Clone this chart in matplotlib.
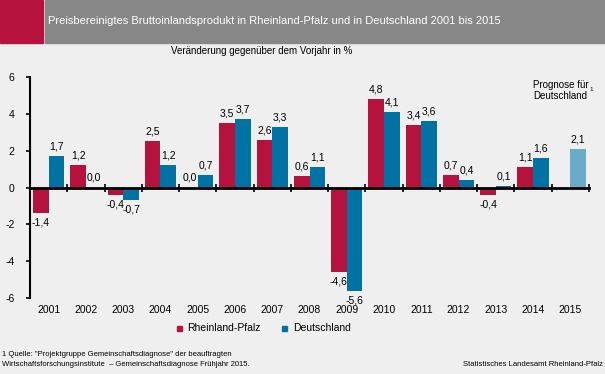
import numpy as np
import matplotlib.pyplot as plt
from matplotlib.patches import Rectangle

plt.rcParams['font.family'] = ['Liberation Sans', 'DejaVu Sans']

# Daten
jahre = ['2001', '2002', '2003', '2004', '2005', '2006', '2007', '2008',
         '2009', '2010', '2011', '2012', '2013', '2014', '2015']
rlp = [-1.4, 1.2, -0.4, 2.5, 0.0, 3.5, 2.6, 0.6, -4.6, 4.8, 3.4, 0.7, -0.4, 1.1, None]
de = [1.7, 0.0, -0.7, 1.2, 0.7, 3.7, 3.3, 1.1, -5.6, 4.1, 3.6, 0.4, 0.1, 1.6, 2.1]
prognose = [False] * 14 + [True]

rot = '#B5123E'
blau = '#0072A3'
hellblau = '#6AABCA'
grau = '#878787'
hg = '#EEEFEE'

W, H = 605, 374
fig = plt.figure(figsize=(W / 100, H / 100), dpi=100)
fig.patch.set_facecolor(hg)

# Titelleiste
fig.patches.append(Rectangle((0, 1 - 43 / H), 43 / W, 43 / H, transform=fig.transFigure,
                             color=rot, zorder=0))
fig.patches.append(Rectangle((45 / W, 1 - 43 / H), 1, 43 / H, transform=fig.transFigure,
                             color=grau, zorder=0))
fig.text(48 / W, 1 - 21 / H, 'Preisbereinigtes Bruttoinlandsprodukt in Rheinland-Pfalz und in Deutschland 2001 bis 2015',
         color='white', fontsize=8, va='center', ha='left')
fig.text(262 / W, 1 - 51 / H, 'Veränderung gegenüber dem Vorjahr in %', fontsize=7,
         va='center', ha='center')

ax = fig.add_axes([30 / W, (H - 298) / H, 559 / W, 221 / H])
ax.set_facecolor(hg)

x = np.arange(len(jahre))
bw = 0.42
for i in x:
    if rlp[i] is not None:
        ax.bar(i - bw / 2, rlp[i], bw, color=rot, zorder=2)
        v = rlp[i]
        off = 0.25 if v >= 0 else -0.25
        ax.text(i - bw / 2, v + off, f'{v:.1f}'.replace('.', ','), ha='center',
                va='bottom' if v >= 0 else 'top', fontsize=7.5)
    c = hellblau if prognose[i] else blau
    ax.bar(i + bw / 2, de[i], bw, color=c, zorder=2)
    v = de[i]
    off = 0.25 if v >= 0 else -0.25
    ax.text(i + bw / 2, v + off, f'{v:.1f}'.replace('.', ','), ha='center',
            va='bottom' if v >= 0 else 'top', fontsize=7.5)

ax.set_xlim(-0.5, len(jahre) - 0.5)
ax.set_ylim(-6, 6)
ax.set_yticks([-6, -4, -2, 0, 2, 4, 6])
ax.set_yticklabels(['-6', '-4', '-2', '0', '2', '4', '6'], fontsize=7.5)
ax.set_xticks(np.arange(len(jahre) + 1) - 0.5)
ax.set_xticklabels([])
ax.tick_params(axis='x', direction='inout', length=6, width=1.2)
ax.tick_params(axis='y', direction='out', length=3, width=1.2, pad=8)
for s in ['top', 'right']:
    ax.spines[s].set_visible(False)
ax.spines['bottom'].set_position(('data', 0))
ax.spines['bottom'].set_linewidth(2)
ax.spines['bottom'].set_zorder(3)
ax.spines['left'].set_linewidth(1.5)

for i, j in enumerate(jahre):
    ax.text(i, -0.03, j, transform=ax.get_xaxis_transform(), ha='center', va='top',
            fontsize=7.5)

ax.text(13.0, 5.85, 'Prognose für\nDeutschland', fontsize=7, ha='left', va='top',
        linespacing=1.15)
ax.text(14.5, 5.45, '1', fontsize=4.5, ha='left', va='top')

# Legende
fig.patches.append(Rectangle((177 / W, 1 - 331 / H), 5 / W, 5 / H, transform=fig.transFigure,
                             color=rot))
fig.text(187 / W, 1 - 328 / H, 'Rheinland-Pfalz', fontsize=7.5, va='center')
fig.patches.append(Rectangle((282 / W, 1 - 331 / H), 5 / W, 5 / H, transform=fig.transFigure,
                             color=blau))
fig.text(293 / W, 1 - 328 / H, 'Deutschland', fontsize=7.5, va='center')

# Fußnoten
fig.text(2 / W, 1 - 354 / H, '1 Quelle: "Projektgruppe Gemeinschaftsdiagnose" der beauftragten',
         fontsize=5.5, va='center')
fig.text(2 / W, 1 - 365 / H, 'Wirtschaftsforschungsinstitute  – Gemeinschaftsdiagnose Frühjahr 2015.',
         fontsize=5.5, va='center')
fig.text(603 / W, 1 - 364 / H, 'Statistisches Landesamt Rheinland-Pfalz', fontsize=5.5,
         va='center', ha='right')

fig.savefig('out.png', dpi=100, facecolor=hg)
